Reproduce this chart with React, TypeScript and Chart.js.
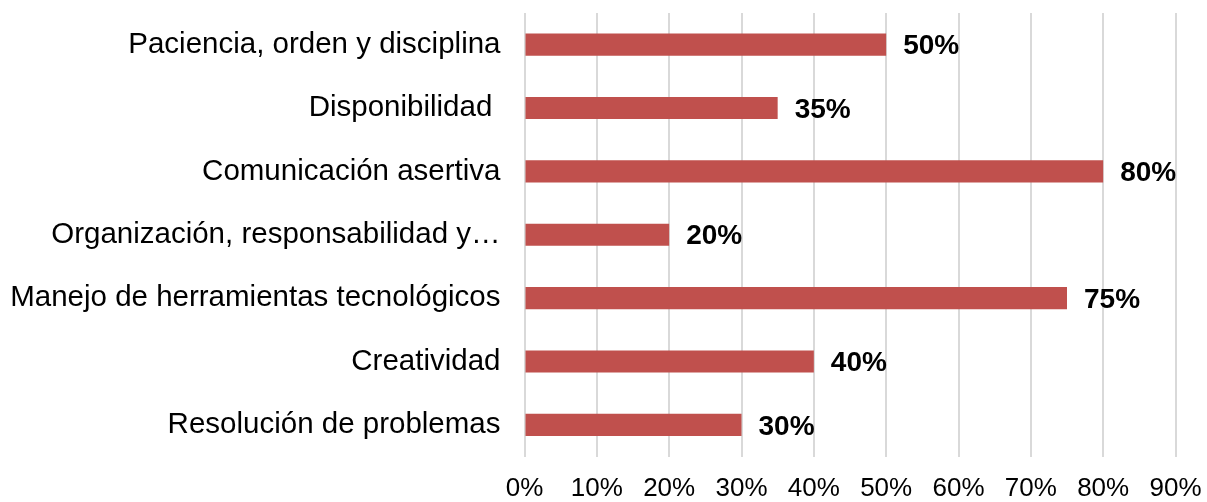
import React, { useEffect, useRef } from "react";
import { Chart, registerables } from "chart.js";

Chart.register(...registerables);

const categories = [
  "Paciencia, orden y disciplina",
  "Disponibilidad ",
  "Comunicación asertiva",
  "Organización, responsabilidad y…",
  "Manejo de herramientas tecnológicos",
  "Creatividad",
  "Resolución de problemas",
];
const values = [0.5, 0.35, 0.8, 0.2, 0.75, 0.4, 0.3];
const xMin = 0;
const xMax = 0.9;
const xStep = 0.1;

const FONT = "'Liberation Sans', Arial, sans-serif";
const BAR_COLOR = "#C0504D";

const pctLabel = (v: number) => `${Math.round(v * 100)}%`;

const valueLabels = {
  id: "valueLabels",
  afterDatasetsDraw(chart: any) {
    const ctx = chart.ctx;
    const meta = chart.getDatasetMeta(0);
    ctx.save();
    ctx.font = `bold 28px ${FONT}`;
    ctx.fillStyle = "#000";
    ctx.textAlign = "left";
    ctx.textBaseline = "middle";
    meta.data.forEach((bar: any, i: number) => {
      ctx.fillText(pctLabel(values[i]), bar.x + 17, bar.y + 2);
    });
    ctx.restore();
  },
};

export default function App() {
  const ref = useRef<HTMLCanvasElement | null>(null);
  useEffect(() => {
    if (!ref.current) return;
    const chart = new Chart(ref.current, {
      type: "bar",
      data: {
        labels: categories,
        datasets: [
          {
            data: values,
            backgroundColor: BAR_COLOR,
            borderWidth: 0,
            barPercentage: 0.35,
            categoryPercentage: 1,
          },
        ],
      },
      options: {
        indexAxis: "y",
        animation: false,
        responsive: false,
        devicePixelRatio: 1,
        layout: { padding: { top: 13, right: 31.5, left: 0, bottom: 0 } },
        plugins: {
          legend: { display: false },
          tooltip: { enabled: false },
        },
        scales: {
          x: {
            min: xMin,
            max: xMax,
            grid: { color: "#D9D9D9", lineWidth: 2, drawTicks: false },
            border: { display: false },
            ticks: {
              stepSize: xStep,
              padding: 19,
              color: "#000",
              font: { family: FONT, size: 26, lineHeight: 1 },
              callback: (v: any) => pctLabel(Number(v)),
            },
            afterFit: (s: any) => {
              s.height = 45.5;
              s.paddingLeft = 0;
              s.paddingRight = 0;
            },
          },
          y: {
            grid: { display: false, drawTicks: false },
            border: { display: false },
            ticks: {
              padding: 24,
              color: "#000",
              autoSkip: false,
              font: { family: FONT, size: 29.5 },
            },
            afterFit: (s: any) => {
              s.width = 524.5;
              s.paddingTop = 0;
              s.paddingBottom = 0;
            },
          },
        },
      },
      plugins: [valueLabels],
    });
    return () => chart.destroy();
  }, []);
  return (
    <div style={{ position: "fixed", left: 0, top: 0, width: 1207, height: 502, background: "#fff" }}>
      <canvas ref={ref} width={1207} height={502} style={{ display: "block", width: 1207, height: 502 }} />
    </div>
  );
}
